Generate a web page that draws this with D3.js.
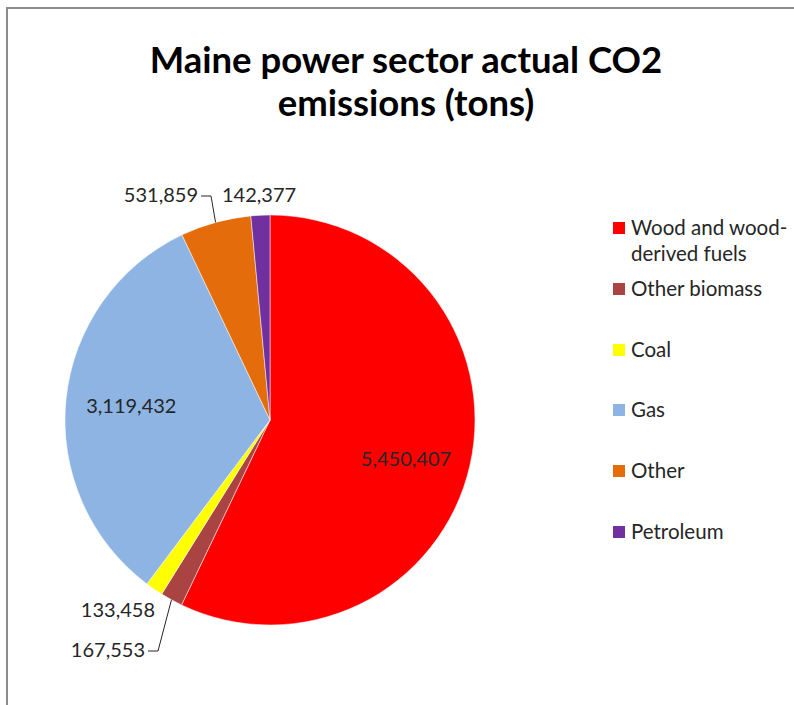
<!DOCTYPE html>
<html>
<head>
<meta charset="utf-8">
<script src="https://cdn.jsdelivr.net/npm/d3@7"></script>
<style>
  html, body { margin: 0; padding: 0; background: #fff; }
  svg { display: block; }
  text { font-family: Lato, "Open Sans", sans-serif; fill: #262626; }
</style>
</head>
<body>
<svg id="chart" width="794" height="705"></svg>
<script>
// Maine power sector CO2 emissions by fuel (tons)
const categories = ["Wood and wood-derived fuels", "Other biomass", "Coal", "Gas", "Other", "Petroleum"];
const legendLines = [["Wood and wood-", "derived fuels"], ["Other biomass"], ["Coal"], ["Gas"], ["Other"], ["Petroleum"]];
const values = [5450407, 167553, 133458, 3119432, 531859, 142377];
const colors = ["#FF0000", "#A94442", "#FFFF00", "#8DB4E2", "#E46C0A", "#7030A0"];
const titleLines = ["Maine power sector actual CO2", "emissions (tons)"];

const svg = d3.select("#chart");
const W = 794, H = 705;

// chart-area frame (only top and left edges fall inside the view)
svg.append("rect")
  .attr("x", 7).attr("y", 8)
  .attr("width", W + 20).attr("height", H + 20)
  .attr("fill", "none").attr("stroke", "#8c8c8c").attr("stroke-width", 2);

// title
svg.append("g").selectAll("text")
  .data(titleLines).join("text")
  .attr("x", 406)
  .attr("y", (d, i) => 73 + i * 43)
  .attr("text-anchor", "middle")
  .attr("font-weight", "bold")
  .attr("font-size", 36.5)
  .style("fill", "#000")
  .text(d => d);

// pie
const cx = 270, cy = 420, R = 205;
const data = categories.map((c, i) => ({ name: c, value: values[i], color: colors[i] }));
const pie = d3.pie().sort(null).value(d => d.value);
const arcs = pie(data);
const arc = d3.arc().innerRadius(0).outerRadius(R);

const g = svg.append("g").attr("transform", `translate(${cx},${cy})`);
g.selectAll("path")
  .data(arcs).join("path")
  .attr("d", arc)
  .attr("fill", d => d.data.color)
  .attr("stroke", "#fff")
  .attr("stroke-width", 0.5);

const fmt = d3.format(",");
const labelFont = 20;

// labels inside the two large slices
const inner = d3.arc().innerRadius(R * 0.68).outerRadius(R * 0.68);
g.selectAll("text.inside")
  .data(arcs.filter(d => d.data.name === categories[0] || d.data.name === "Gas"))
  .join("text")
  .attr("class", "inside")
  .attr("transform", d => {
    const [x, y] = inner.centroid(d);
    return `translate(${x},${y + (d.data.name === "Gas" ? 0 : 8)})`;
  })
  .attr("text-anchor", "middle")
  .attr("dy", "0.35em")
  .attr("font-size", labelFont)
  .text(d => fmt(d.data.value));

// outside labels for the thin slices: label anchor offsets relative to pie centre
const outsideLayout = {
  "Other biomass": { x: -125, y: 230, anchor: "end", leader: true },
  "Coal": { x: -115, y: 190, anchor: "end", leader: false },
  "Other": { x: -72, y: -225, anchor: "end", leader: true },
  "Petroleum": { x: -48, y: -225, anchor: "start", leader: false }
};
const edge = d3.arc().innerRadius(R).outerRadius(R);

arcs.forEach(d => {
  const L = outsideLayout[d.data.name];
  if (!L) return;
  g.append("text")
    .attr("x", L.x).attr("y", L.y)
    .attr("text-anchor", L.anchor)
    .attr("dy", "0.35em")
    .attr("font-size", labelFont)
    .text(fmt(d.data.value));
  if (L.leader) {
    const [ex, ey] = edge.centroid(d);
    const x0 = L.x + 3, x1 = L.x + 13;
    g.append("polyline")
      .attr("points", `${x0},${L.y + 1} ${x1},${L.y + 1} ${ex},${ey}`)
      .attr("fill", "none")
      .attr("stroke", "#262626")
      .attr("stroke-width", 1);
  }
});

// legend
const legY = [228, 289, 350, 410, 471, 532];
const leg = svg.append("g");
categories.forEach((c, i) => {
  leg.append("rect")
    .attr("x", 613).attr("y", legY[i] - 6)
    .attr("width", 12).attr("height", 12)
    .attr("fill", colors[i]);
  legendLines[i].forEach((line, j) => {
    leg.append("text")
      .attr("x", 631).attr("y", legY[i] + j * 26)
      .attr("dy", "0.35em")
      .attr("font-size", 20.5)
      .text(line);
  });
});
</script>
</body>
</html>
